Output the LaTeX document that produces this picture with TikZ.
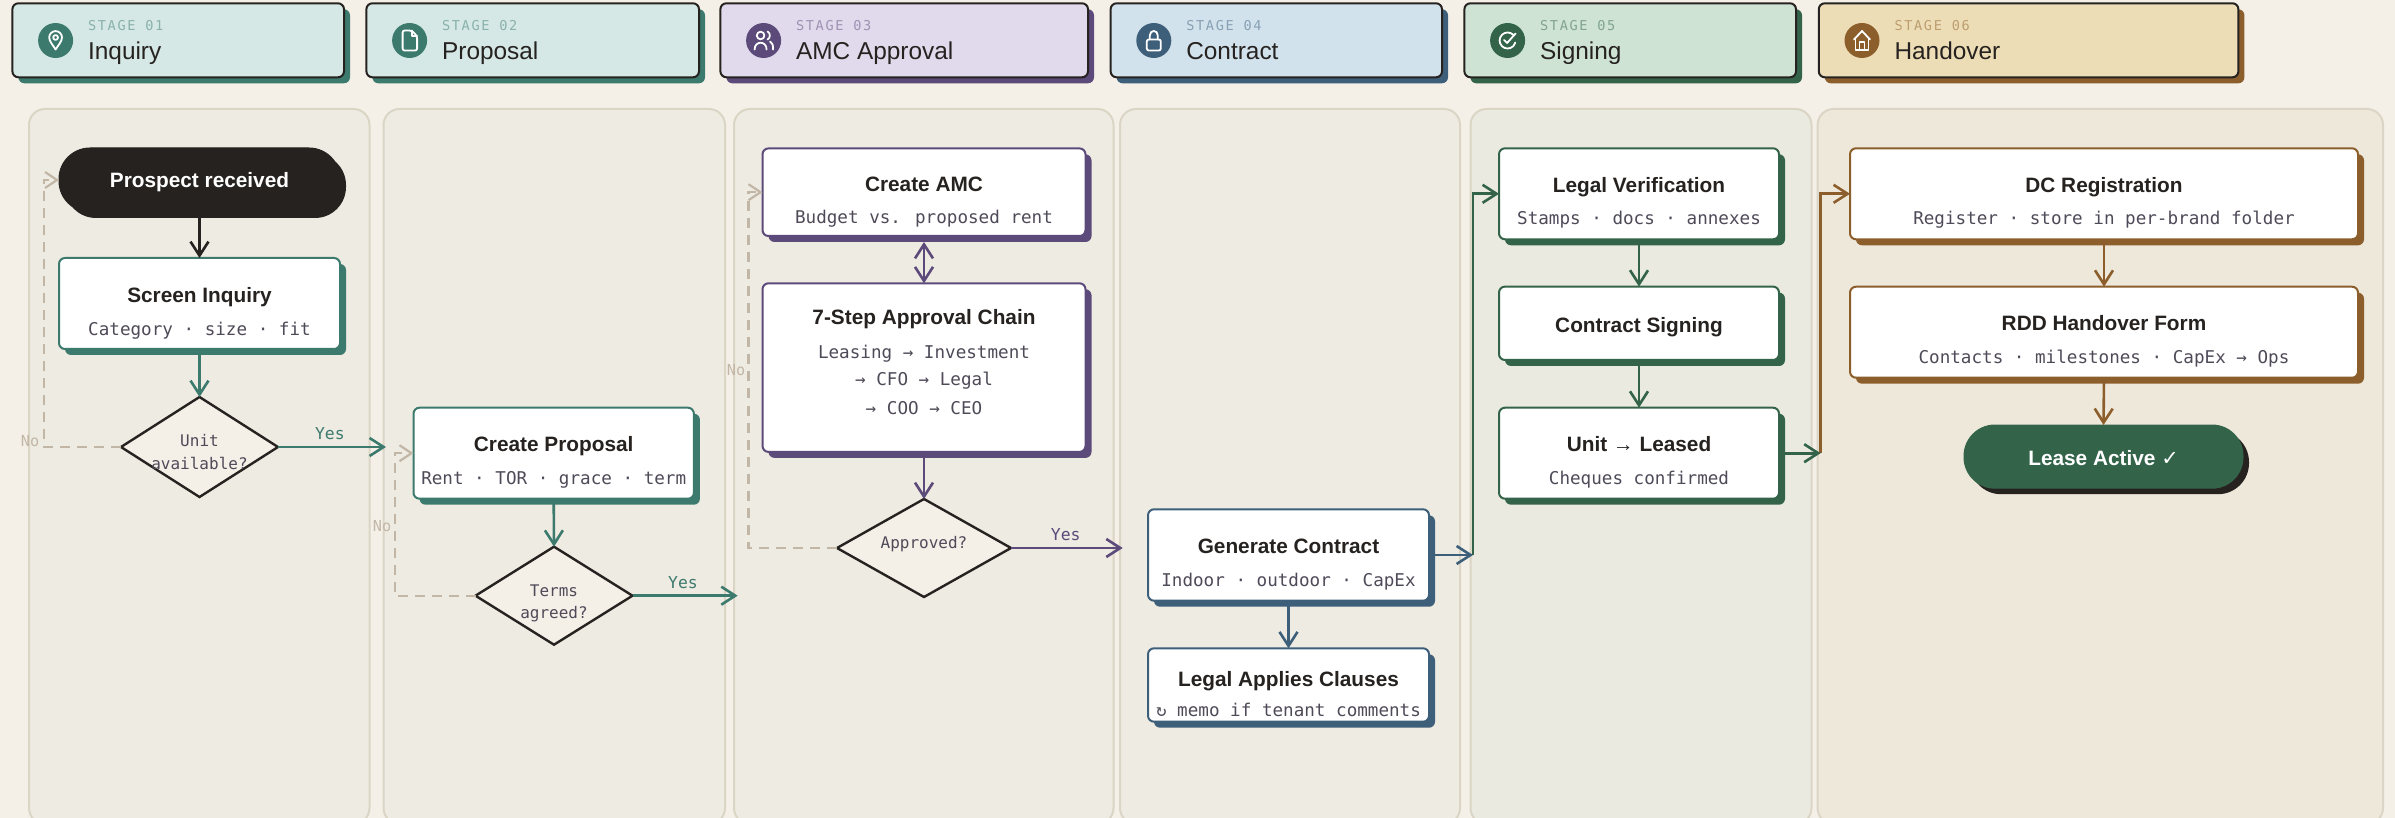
\documentclass[tikz,border=0pt]{standalone}
\usepackage{fontspec}
\usepackage{tikz}
\usetikzlibrary{arrows.meta, shapes.geometric, shadows}
\setmainfont{Liberation Sans}
\newfontfamily\monofont{DejaVu Sans Mono}
\newfontfamily\stagefont[LetterSpace=12]{DejaVu Sans Mono}
\newfontfamily\symbfont{DejaVu Sans}
\definecolor{Paper}{HTML}{F4F0E8}
\definecolor{LaneFill}{HTML}{EEEBE2}
\definecolor{LaneEdge}{HTML}{DAD5C5}
\definecolor{Ink}{HTML}{262220}
\definecolor{Muted}{HTML}{C2B6A6}
\definecolor{SubInk}{HTML}{4F4A58}
\definecolor{Teal}{HTML}{3D7A6E}
\definecolor{Plum}{HTML}{5B4A7A}
\definecolor{Steel}{HTML}{3D5F7A}
\definecolor{Pine}{HTML}{33644A}
\definecolor{Ochre}{HTML}{8B5E2B}
\definecolor{TealSoft}{HTML}{D5E8E5}
\definecolor{PlumSoft}{HTML}{E0DAEC}
\definecolor{SteelSoft}{HTML}{D2E2EC}
\definecolor{PineSoft}{HTML}{CFE3D4}
\definecolor{OchreSoft}{HTML}{EDDDB6}

\begin{document}
\begin{tikzpicture}[
  x=0.5pt, y=-0.5pt,
  lane/.style={draw=LaneEdge,line width=1pt,rounded corners=8pt},
  stagebox/.style={rectangle,draw=Ink,line width=1pt,rounded corners=3pt,outer sep=0pt,anchor=west,
    minimum height=37pt,drop shadow={shadow xshift=3pt,shadow yshift=-3pt,fill=#1,opacity=1}},
  stagedot/.style={circle,minimum size=17.5pt,inner sep=0pt,fill=#1},
  stagenum/.style={anchor=west,inner sep=0pt,font=\stagefont\fontsize{6.8}{8}\selectfont},
  stagename/.style={anchor=west,inner sep=0pt,text height=9pt,text depth=2.5pt,text=Ink,font=\fontsize{12.2}{14}\selectfont},
  icon/.style={draw=white,line width=0.9pt,line join=round,line cap=round},
  card/.style={rectangle,draw=#1,fill=white,line width=1pt,rounded corners=3pt,outer sep=0pt,
    drop shadow={shadow xshift=3pt,shadow yshift=-3pt,fill=#1,opacity=1}},
  pill/.style={rectangle,draw=#1,fill=#1,line width=0.5pt,rounded corners=15.5pt,outer sep=0pt,
    drop shadow={shadow xshift=3pt,shadow yshift=-3pt,fill=Ink,opacity=1}},
  check/.style={diamond,draw=Ink,fill=Paper,line width=1.2pt,inner sep=0pt,outer sep=0pt},
  titletxt/.style={inner sep=0pt,text=Ink,text height=10pt,text depth=2pt,font=\bfseries\fontsize{10.4}{12}\selectfont},
  subtxt/.style={inner sep=0pt,text=SubInk,text height=9.5pt,text depth=2pt,font=\monofont\fontsize{8.8}{10}\selectfont},
  asktxt/.style={inner sep=0pt,text=SubInk,text height=8.7pt,text depth=2pt,font=\monofont\fontsize{8}{10}\selectfont},
  yestxt/.style={inner sep=0pt,text=#1,text height=6.5pt,text depth=0pt,font=\monofont\fontsize{8.2}{10}\selectfont},
  notxt/.style={inner sep=0pt,text=Muted,text height=6.5pt,text depth=0pt,font=\monofont\fontsize{7.6}{10}\selectfont},
  flow/.style={draw=#1,line width=1.3pt,-{Straight Barb[length=7pt,width=9pt,line width=1.3pt]}},
  dblflow/.style={draw=#1,line width=1.3pt,{Straight Barb[length=7pt,width=9pt,line width=1.3pt]}-{Straight Barb[length=7pt,width=9pt,line width=1.3pt]}},
  noflow/.style={draw=Muted,line width=1.1pt,dash pattern=on 5pt off 3.5pt,-{Straight Barb[length=6pt,width=8pt,line width=1.1pt]}}
]
\useasboundingbox[fill=Paper] (0,0) rectangle (2395,818);

% swimlanes
\draw[lane,fill=LaneFill] (29,109) rectangle (369.5,824);
\draw[lane,fill=LaneFill] (383.5,109) rectangle (725,824);
\draw[lane,fill=LaneFill] (734,109) rectangle (1113.5,824);
\draw[lane,fill=LaneFill] (1120,109) rectangle (1460,824);
\draw[lane,fill=PineSoft!12!LaneFill] (1470.5,109) rectangle (1811.5,824);
\draw[lane,fill=OchreSoft!18!LaneFill] (1817.6,109) rectangle (2383,824);

% stage headers
\foreach \id/\hx/\hw/\soft/\main/\num/\hname in {
  1/12.4/331.6/TealSoft/Teal/01/Inquiry,
  2/366.4/332.6/TealSoft/Teal/02/Proposal,
  3/720.4/367.6/PlumSoft/Plum/03/AMC Approval,
  4/1110.6/331.4/SteelSoft/Steel/04/Contract,
  5/1464.4/331.6/PineSoft/Pine/05/Signing,
  6/1818.8/419.6/OchreSoft/Ochre/06/Handover}
{
  \node[stagebox=\main,fill=\soft,minimum width=\hw*0.5pt] (head\id) at (\hx,40.3) {};
  \node[stagedot=\main] (dot\id) at (\hx+43.2,40.5) {};
  \node[stagenum,text=\main!50!\soft] (num\id) at (\hx+75.3,26) {STAGE \num};
  \node[stagename] (name\id) at (\hx+75.3,53) {\hname};
}

% stage icons
\begin{scope}[shift={(dot1.center)}]
  \draw[icon] (0,9) .. controls (-2,5.5) and (-6.4,1) .. (-6.4,-3) .. controls (-6.4,-6.6) and (-3.5,-9.4) .. (0,-9.4) .. controls (3.5,-9.4) and (6.4,-6.6) .. (6.4,-3) .. controls (6.4,1) and (2,5.5) .. (0,9) -- cycle;
  \draw[icon] (0,-3) circle (2.4);
\end{scope}
\begin{scope}[shift={(dot2.center)}]
  \draw[icon,rounded corners=1pt] (-7,-10) -- (2,-10) -- (7.5,-4.5) -- (7.5,10) -- (-7,10) -- cycle;
  \draw[icon] (2,-10) -- (2,-4.5) -- (7.5,-4.5);
\end{scope}
\begin{scope}[shift={(dot3.center)}]
  \draw[icon] (-3,-5) circle (3.8);
  \draw[icon] (-9,9) .. controls (-9,0) and (3,0) .. (3,9);
  \draw[icon] (4,-9) .. controls (7,-7.5) and (7,-2.5) .. (4,-1);
  \draw[icon] (6.5,1) .. controls (9,2) and (9.5,5) .. (9.5,9);
\end{scope}
\begin{scope}[shift={(dot4.center)}]
  \draw[icon,rounded corners=1pt] (-7,-1) rectangle (7,10);
  \draw[icon] (-4,-1) -- (-4,-5) .. controls (-4,-11) and (4,-11) .. (4,-5) -- (4,-1);
\end{scope}
\begin{scope}[shift={(dot5.center)}]
  \draw[icon] (5.66,-5.66) arc[start angle=-45,end angle=-345,radius=8];
  \draw[icon] (-3.5,-0.5) -- (-0.5,2.5) -- (8,-7);
\end{scope}
\begin{scope}[shift={(dot6.center)}]
  \draw[icon] (-8,-1) -- (0,-9.5) -- (8,-1);
  \draw[icon] (-6.5,-2.5) -- (-6.5,9.5) -- (6.5,9.5) -- (6.5,-2.5);
  \draw[icon] (-2.5,9.5) -- (-2.5,1.5) -- (2.5,1.5) -- (2.5,9.5);
\end{scope}

% stage 1
\node[pill=Ink,minimum width=140.5pt,minimum height=32pt] (prospect) at (199.5,180) {};
\node[titletxt,text=white] (prospectT) at (199.5,180) {Prospect received};
\node[card=Teal,minimum width=140.5pt,minimum height=45.5pt] (screen) at (199.5,303.5) {};
\node[titletxt] (screenT) at (199.5,295) {Screen Inquiry};
\node[subtxt] (screenS) at (199.5,328) {Category · size · fit};
\node[check,minimum width=78.5pt,minimum height=50pt] (unit) at (199.5,447) {};
\node[asktxt] (unitA) at (199.5,440) {Unit};
\node[asktxt] (unitB) at (199.5,463) {available?};

% stage 2
\node[card=Teal,minimum width=140.2pt,minimum height=45.5pt] (proposal) at (553.7,453.2) {};
\node[titletxt] (proposalT) at (553.7,443.7) {Create Proposal};
\node[subtxt] (proposalS) at (553.7,477) {Rent · TOR · grace · term};
\node[check,minimum width=78.5pt,minimum height=49pt] (terms) at (554,595.7) {};
\node[asktxt] (termsA) at (554,589.7) {Terms};
\node[asktxt] (termsB) at (554,612) {agreed?};

% stage 3
\node[card=Plum,minimum width=161.5pt,minimum height=43.8pt] (amc) at (924,192.2) {};
\node[titletxt] (amcT) at (924,184) {Create AMC};
\node[subtxt] (amcS) at (924,215.7) {Budget vs. proposed rent};
\node[card=Plum,minimum width=161.5pt,minimum height=84.3pt] (chain) at (924,367.6) {};
\node[titletxt] (chainT) at (924,317) {7-Step Approval Chain};
\node[subtxt] (chainA) at (924,350.7) {Leasing → Investment};
\node[subtxt] (chainB) at (924,378.5) {→ CFO → Legal};
\node[subtxt] (chainC) at (924,406.7) {→ COO → CEO};
\node[check,minimum width=87pt,minimum height=49pt] (approved) at (924,548) {};
\node[asktxt] (approvedA) at (924,542) {Approved?};

% stage 4
\node[card=Steel,minimum width=140.5pt,minimum height=45.7pt] (contract) at (1288.5,555) {};
\node[titletxt] (contractT) at (1288.5,545.3) {Generate Contract};
\node[subtxt] (contractS) at (1288.5,578.7) {Indoor · outdoor · CapEx};
\node[card=Steel,minimum width=140.5pt,minimum height=36.7pt] (clauses) at (1288.5,685) {};
\node[titletxt] (clausesT) at (1288.5,678.7) {Legal Applies Clauses};
\node[subtxt] (clausesS) at (1288.5,708.7) {↻ memo if tenant comments};

% stage 5
\node[card=Pine,minimum width=140pt,minimum height=45.5pt] (verify) at (1639,193.8) {};
\node[titletxt] (verifyT) at (1639,184.3) {Legal Verification};
\node[subtxt] (verifyS) at (1639,217.3) {Stamps · docs · annexes};
\node[card=Pine,minimum width=140pt,minimum height=36.7pt] (signing) at (1639,323.3) {};
\node[titletxt] (signingT) at (1639,324.7) {Contract Signing};
\node[card=Pine,minimum width=140pt,minimum height=45.5pt] (leased) at (1639,453.2) {};
\node[titletxt] (leasedT) at (1639,443.7) {Unit → Leased};
\node[subtxt] (leasedS) at (1639,476.7) {Cheques confirmed};

% stage 6
\node[card=Ochre,minimum width=254pt,minimum height=45.5pt] (dc) at (2104,193.8) {};
\node[titletxt] (dcT) at (2104,184.3) {DC Registration};
\node[subtxt] (dcS) at (2104,217.3) {Register · store in per-brand folder};
\node[card=Ochre,minimum width=254pt,minimum height=45.5pt] (rdd) at (2104,332.2) {};
\node[titletxt] (rddT) at (2104,322.7) {RDD Handover Form};
\node[subtxt] (rddS) at (2104,355.7) {Contacts · milestones · CapEx → Ops};
\node[pill=Pine,minimum width=139.5pt,minimum height=31.6pt] (active) at (2103.5,456.6) {};
\node[titletxt,text=white] (activeT) at (2103.5,457.7) {Lease Active {\symbfont\bfseries ✓}};

% free ends
\coordinate (unitOut) at (386,447);
\coordinate (unitBack) at (43.6,180);
\coordinate (termsOut) at (737.7,595.7);
\coordinate (termsBack) at (394.6,453.2);
\coordinate (approvedOut) at (1122.7,548);
\coordinate (approvedBack) at (748.5,192.2);
\coordinate (contractOut) at (1473,555);
\coordinate (verifyBack) at (1471,193.8);
\coordinate (leasedOut) at (1820.6,453.2);
\coordinate (dcBack) at (1817.6,193.8);

% straight downward arrows
\foreach \from/\to/\tone in {prospect/screen/Ink, screen/unit/Teal, proposal/terms/Teal, chain/approved/Plum, contract/clauses/Steel, verify/signing/Pine, signing/leased/Pine, dc/rdd/Ochre, rdd/active/Ochre}
{
  \draw[flow=\tone] (\from.south) -- (\to.north);
}
\draw[dblflow=Plum] ([yshift=-3pt]amc.south) -- (chain.north);

% stage to stage
\draw[flow=Teal] (unit.east) -- (unitOut) node[yestxt=Teal,pos=0.48,above=3pt] (unitYes) {Yes};
\draw[flow=Teal] (terms.east) -- (termsOut) node[yestxt=Teal,pos=0.48,above=3pt] (termsYes) {Yes};
\draw[flow=Plum] (approved.east) -- (approvedOut) node[yestxt=Plum,pos=0.49,above=3pt] (approvedYes) {Yes};
\draw[flow=Pine] (contractOut) |- (verify.west);
\draw[flow=Steel] (contract.east) -- (contractOut);
\draw[flow=Ochre] (leasedOut) |- (dc.west);
\draw[flow=Pine] (leased.east) -- (leasedOut);

% no branches
\draw[noflow] (unit.west) -| (unitBack) -- (prospect.west);
\draw[noflow] (terms.west) -| (termsBack) -- (proposal.west);
\draw[noflow] (approved.west) -| (approvedBack) -- (amc.west);
\node[notxt] (unitNo) at (30,440) {No};
\node[notxt] (termsNo) at (382,525) {No};
\node[notxt] (approvedNo) at (736,368.7) {No};
\end{tikzpicture}
\end{document}
